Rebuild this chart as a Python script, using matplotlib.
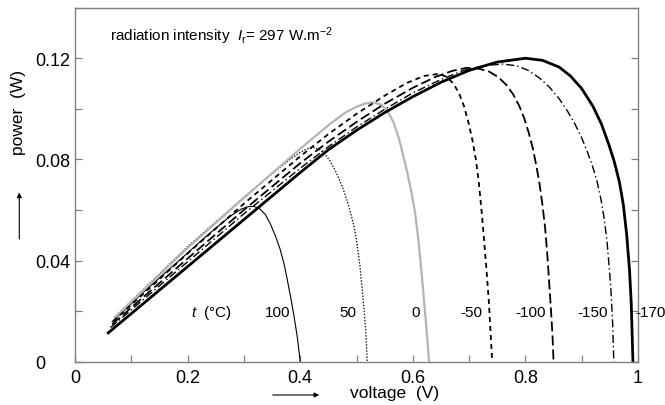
import matplotlib
matplotlib.use('Agg')
import matplotlib.pyplot as plt
from matplotlib.ticker import MultipleLocator

plt.rcParams['font.family'] = ['Liberation Sans', 'DejaVu Sans']
plt.rcParams['mathtext.fontset'] = 'custom'
plt.rcParams['mathtext.rm'] = 'Liberation Sans'
plt.rcParams['mathtext.it'] = 'Liberation Sans:italic'
plt.rcParams['lines.scale_dashes'] = False

# P-V curves, one pair of lists per temperature
v_100 = [0.066, 0.12, 0.2, 0.23, 0.26, 0.28, 0.295, 0.307, 0.318, 0.328, 0.338, 0.347,
         0.356, 0.364, 0.371, 0.377, 0.383, 0.389, 0.395, 0.400]
p_100 = [0.0158, 0.0272, 0.0430, 0.0490, 0.0547, 0.0582, 0.0603, 0.0613, 0.0614, 0.0605, 0.0582, 0.0545,
         0.0497, 0.0447, 0.0390, 0.0325, 0.0255, 0.0180, 0.0095, 0.0]

v_50 = [0.070, 0.2, 0.3, 0.36, 0.385, 0.40, 0.412, 0.424, 0.435, 0.445, 0.454, 0.462, 0.470,
        0.477, 0.484, 0.490, 0.496, 0.501, 0.506, 0.510, 0.514, 0.517, 0.519]
p_50 = [0.0175, 0.0455, 0.0650, 0.0762, 0.0805, 0.0828, 0.0842, 0.0847, 0.0838, 0.0818, 0.0790, 0.0757, 0.0718,
        0.0678, 0.0632, 0.0585, 0.0530, 0.0465, 0.0380, 0.0290, 0.0190, 0.0100, 0.0]

v_0 = [0.070, 0.2, 0.3, 0.4, 0.45, 0.48, 0.50, 0.515, 0.53, 0.545, 0.556, 0.566, 0.575, 0.583,
       0.591, 0.598, 0.604, 0.610, 0.616, 0.621, 0.625, 0.629]
p_0 = [0.0172, 0.0450, 0.0648, 0.0842, 0.0935, 0.0985, 0.1008, 0.1021, 0.1026, 0.1015, 0.0988, 0.0945, 0.0885, 0.0815,
       0.0740, 0.0665, 0.0590, 0.0480, 0.0340, 0.0215, 0.0110, 0.0]

v_m50 = [0.068, 0.2, 0.3, 0.4, 0.45, 0.5, 0.55, 0.59, 0.62, 0.645, 0.660, 0.672, 0.682, 0.691,
         0.699, 0.706, 0.712, 0.717, 0.722, 0.727, 0.731, 0.735, 0.738, 0.741]
p_m50 = [0.0160, 0.0428, 0.0625, 0.0812, 0.0900, 0.0980, 0.1052, 0.1103, 0.1130, 0.1138, 0.1127, 0.1100, 0.1062, 0.1010,
         0.0945, 0.0875, 0.0800, 0.0715, 0.0600, 0.0470, 0.0360, 0.0240, 0.0120, 0.0]

v_m100 = [0.066, 0.2, 0.3, 0.4, 0.45, 0.5, 0.55, 0.6, 0.64, 0.67, 0.695, 0.715, 0.735, 0.752,
          0.766, 0.778, 0.789, 0.798, 0.806, 0.813, 0.819, 0.825, 0.830, 0.835, 0.839, 0.842,
          0.845, 0.848, 0.850]
p_m100 = [0.0148, 0.0408, 0.0600, 0.0785, 0.0870, 0.0948, 0.1020, 0.1083, 0.1126, 0.1150, 0.1162, 0.1160, 0.1148, 0.1125,
          0.1095, 0.1058, 0.1012, 0.0962, 0.0905, 0.0845, 0.0780, 0.0705, 0.0625, 0.0530, 0.0420, 0.0320,
          0.0220, 0.0110, 0.0]

v_m150 = [0.063, 0.2, 0.3, 0.4, 0.45, 0.5, 0.55, 0.6, 0.65, 0.69, 0.73, 0.76, 0.785, 0.805,
          0.825, 0.843, 0.860, 0.875, 0.888, 0.900, 0.910, 0.919, 0.927, 0.934, 0.940, 0.945,
          0.949, 0.952, 0.955, 0.957]
p_m150 = [0.0135, 0.0395, 0.0585, 0.0765, 0.0850, 0.0928, 0.0998, 0.1063, 0.1116, 0.1152, 0.1172, 0.1177, 0.1170, 0.1152,
          0.1122, 0.1085, 0.1040, 0.0990, 0.0940, 0.0885, 0.0830, 0.0775, 0.0715, 0.0645, 0.0565, 0.0475,
          0.0370, 0.0280, 0.0150, 0.0]

v_m170 = [0.059, 0.2, 0.3, 0.35, 0.4, 0.45, 0.5, 0.55, 0.6, 0.65, 0.7, 0.75, 0.8, 0.83, 0.86,
          0.88, 0.90, 0.92, 0.935, 0.948, 0.958, 0.967, 0.974, 0.980, 0.985, 0.988, 0.991]
p_m170 = [0.0114, 0.0376, 0.0562, 0.0655, 0.0748, 0.0838, 0.0915, 0.0985, 0.1048, 0.1105, 0.1152, 0.1185, 0.1200, 0.1192, 0.1165,
          0.1130, 0.1080, 0.1010, 0.0940, 0.0860, 0.0790, 0.0710, 0.0620, 0.0500, 0.0360, 0.0230, 0.0]

# temperature labels and where they sit on the voltage axis
temp_labels = ['100', '50', '0', '-50', '-100', '-150', '-170']
temp_label_v = [0.36, 0.484, 0.605, 0.704, 0.809, 0.919, 1.022]
label_p = 0.0196

x_ticks = [0, 0.2, 0.4, 0.6, 0.8, 1.0]
x_tick_labels = ['0', '0.2', '0.4', '0.6', '0.8', '1']
y_ticks = [0, 0.04, 0.08, 0.12]
y_tick_labels = ['0', '0.04', '0.08', '0.12']

fig = plt.figure(figsize=(6.65, 4.06), dpi=100)
ax = fig.add_axes([0.1128, 0.1067, 0.8466, 0.8719])

ax.plot(v_100, p_100, color='black', lw=0.8)
ax.plot(v_50, p_50, color='black', lw=0.9, linestyle=(0, (1.0, 1.2)))
ax.plot(v_0, p_0, color='#b4b4b4', lw=1.6)
ax.plot(v_m50, p_m50, color='black', lw=1.3, linestyle=(0, (3.6, 2.9)))
ax.plot(v_m100, p_m100, color='black', lw=1.3, linestyle=(0, (7.2, 2.9)))
ax.plot(v_m150, p_m150, color='black', lw=1.0, linestyle=(0, (5.8, 2.2, 1.0, 2.2)))
ax.plot(v_m170, p_m170, color='black', lw=2.0)

ax.set_xlim(0, 1)
ax.set_ylim(0, 0.14)

ax.set_xticks(x_ticks)
ax.set_xticklabels(x_tick_labels)
ax.set_yticks(y_ticks)
ax.set_yticklabels(y_tick_labels)
ax.xaxis.set_minor_locator(MultipleLocator(0.1))
ax.yaxis.set_minor_locator(MultipleLocator(0.02))

ax.tick_params(which='both', direction='in', length=5, width=0.9, color='#808080',
               top=False, right=True, labelsize=13)
ax.tick_params(axis='x', pad=5)
ax.tick_params(axis='y', pad=28.8)
for lab in ax.get_yticklabels():
    lab.set_horizontalalignment('left')

for s in ax.spines.values():
    s.set_color('#808080')
    s.set_linewidth(1.0)

# annotations inside the plot
ax.text(0.062, 0.129, r'radiation intensity  $I_\mathrm{r}$= 297 W.m$^{-2}$',
        fontsize=11, ha='left', va='center')
ax.text(0.206, label_p, r'$t$  (°C)', fontsize=11, ha='left', va='center')
for txt, xv in zip(temp_labels, temp_label_v):
    ax.text(xv, label_p, txt, fontsize=11, ha='center', va='center', clip_on=False)

# axis labels with the little arrows
fig.text(18.7 / 665, 1 - 113 / 406, 'power  (W)', rotation=90, fontsize=12.5,
         ha='center', va='center')
fig.text(395 / 665, 1 - 394 / 406, 'voltage  (V)', fontsize=12.5, ha='center', va='center')
fig.add_artist(matplotlib.patches.FancyArrowPatch(
    (19.3 / 665, 1 - 242.7 / 406), (19.3 / 665, 1 - 190.7 / 406),
    transform=fig.transFigure, arrowstyle='-|>', mutation_scale=7, lw=0.8, color='black'))
fig.add_artist(matplotlib.patches.FancyArrowPatch(
    (270 / 665, 1 - 396 / 406), (322 / 665, 1 - 396 / 406),
    transform=fig.transFigure, arrowstyle='-|>', mutation_scale=7, lw=0.8, color='black'))

plt.savefig('out.png', dpi=100)
plt.close(fig)
